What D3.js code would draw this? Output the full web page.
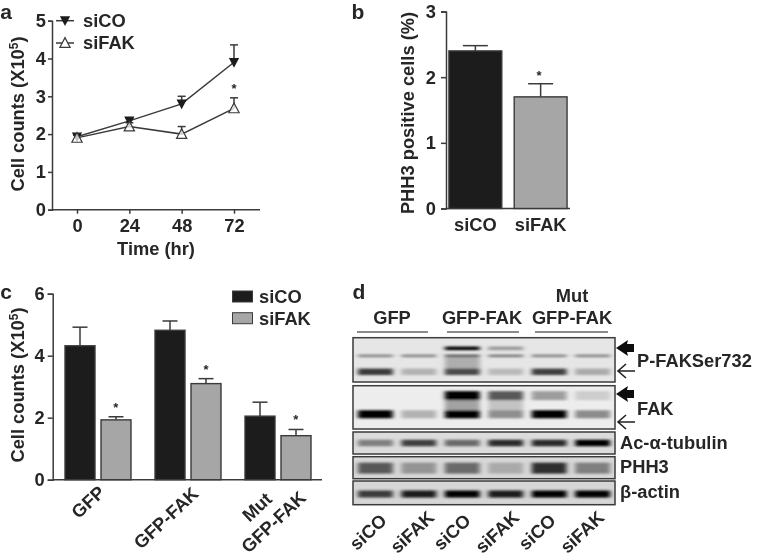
<!DOCTYPE html>
<html><head><meta charset="utf-8">
<script src="https://cdn.jsdelivr.net/npm/d3@7"></script>
<style>
html,body{margin:0;padding:0;background:#fff}
svg{display:block}
text{font-family:"Liberation Sans",Arial,sans-serif;font-weight:bold;fill:#262626}
</style></head><body><div id="c"></div>
<script>
// ---------- data ----------
const hours = [0, 24, 48, 72];
const aSiCO = [1.93, 2.35, 2.8, 3.9];
const aSiCOErr = [0.05, 0.07, 0.2, 0.46];
const aSiFAK = [1.9, 2.2, 2.0, 2.68];
const aSiFAKErr = [0.08, 0.1, 0.2, 0.28];
const bCats = ["siCO", "siFAK"];
const bVals = [2.4, 1.7];
const bErr = [0.08, 0.2];
const cCats = ["GFP", "GFP-FAK", "Mut GFP-FAK"];
const cSiCO = [4.32, 4.82, 2.05];
const cSiCOErr = [0.6, 0.3, 0.45];
const cSiFAK = [1.93, 3.1, 1.42];
const cSiFAKErr = [0.1, 0.16, 0.2];
const laneLabels = ["siCO", "siFAK", "siCO", "siFAK", "siCO", "siFAK"];
// blot band intensities (0..1), one row per band, one value per lane
const pfakUpper = [0, 0, 1, 0.3, 0, 0];
const pfakMiddle = [0.4, 0.4, 0.6, 0.45, 0.4, 0.4];
const pfakSmear = [0, 0, 0.2, 0, 0, 0];
const pfakLower = [0.75, 0.18, 0.68, 0.14, 0.72, 0.22];
const fakUpper = [0, 0, 1, 0.6, 0.28, 0.05];
const fakSmear = [0, 0, 0.25, 0.1, 0, 0];
const fakLower = [1, 0.18, 1, 0.35, 1, 0.36];
const tubulin = [0.42, 0.72, 0.52, 0.82, 0.82, 1];
const phh3 = [0.6, 0.32, 0.52, 0.22, 0.8, 0.42];
const actin = [0.75, 0.9, 1, 0.9, 1, 1];

// ---------- set-up ----------
const W = 757, H = 559, FS = 18.3, INK = "#3a3a3a";
const svg = d3.select("#c").append("svg").attr("width", W).attr("height", H);
const defs = svg.append("defs");
const soft = defs.append("filter").attr("id", "soft").attr("x", "-5%").attr("y", "-5%").attr("width", "110%").attr("height", "110%");
soft.append("feGaussianBlur").attr("stdDeviation", 0.5);
const blur = defs.append("filter").attr("id", "band").attr("x", "-20%").attr("y", "-100%").attr("width", "140%").attr("height", "300%");
blur.append("feGaussianBlur").attr("stdDeviation", "2.6 1");
const root = svg.append("g").attr("filter", "url(#soft)");
root.append("rect").attr("width", W).attr("height", H).attr("fill", "#fff");

function label(t, x, y, o = {}) {
  return root.append("text").attr("x", x).attr("y", y).attr("dy", "0.35em")
    .attr("text-anchor", o.anchor || "middle").attr("font-size", o.size || FS)
    .attr("transform", o.rot ? `rotate(${o.rot} ${x} ${y})` : null).text(t);
}
function styleAxis(g, size) {
  g.selectAll("path,line").attr("stroke", INK).attr("stroke-width", 1.5);
  g.selectAll("text").attr("font-size", size || FS).attr("font-weight", "bold")
    .attr("font-family", '"Liberation Sans",Arial,sans-serif').attr("fill", "#262626");
}
function yTitle(x, y, main) {
  return root.append("text").attr("text-anchor", "middle").attr("font-size", FS)
    .attr("transform", `translate(${x},${y}) rotate(-90)`).text(main);
}
function sup(t) {
  t.append("tspan").text("Cell counts (X10");
  t.append("tspan").attr("dy", -6).attr("font-size", 12).text("5");
  t.append("tspan").attr("dy", 6).text(")");
}
function errBars(g, xs, ys, tops, cap) {
  xs.forEach((x, i) => {
    g.append("line").attr("x1", x).attr("x2", x).attr("y1", ys[i]).attr("y2", tops[i]).attr("stroke", INK).attr("stroke-width", 1.5);
    g.append("line").attr("x1", x - cap / 2).attr("x2", x + cap / 2).attr("y1", tops[i]).attr("y2", tops[i]).attr("stroke", INK).attr("stroke-width", 1.5);
  });
}
const downTri = d3.symbol().type({ draw(c, s) { const r = Math.sqrt(s) / 2; c.moveTo(-r, -r * .85); c.lineTo(r, -r * .85); c.lineTo(0, r * 1.05); c.closePath(); } }).size(105);
const upTri = d3.symbol().type({ draw(c, s) { const r = Math.sqrt(s) / 2; c.moveTo(-r, r * .85); c.lineTo(r, r * .85); c.lineTo(0, -r * 1.05); c.closePath(); } }).size(105);

// ---------- panel a ----------
{
  const x = d3.scalePoint().domain(hours).range([77, 234]);
  const y = d3.scaleLinear().domain([0, 5]).range([209.7, 20.7]);
  const ax = root.append("g").attr("transform", "translate(0,209.7)")
    .call(d3.axisBottom(x).tickSize(4).tickPadding(5));
  ax.select(".domain").attr("d", "M52,0H260");
  styleAxis(ax);
  const ay = root.append("g").attr("transform", "translate(52,0)")
    .call(d3.axisLeft(y).ticks(5).tickSize(4).tickPadding(2));
  styleAxis(ay);
  const line = d3.line().x((d, i) => x(hours[i])).y(d => y(d));
  const g = root.append("g");
  errBars(g, hours.map(x), aSiFAK.map(y), aSiFAK.map((v, i) => y(v + aSiFAKErr[i])), 8);
  errBars(g, hours.map(x), aSiCO.map(y), aSiCO.map((v, i) => y(v + aSiCOErr[i])), 8);
  g.append("path").attr("d", line(aSiFAK)).attr("fill", "none").attr("stroke", INK).attr("stroke-width", 1.5);
  g.append("path").attr("d", line(aSiCO)).attr("fill", "none").attr("stroke", INK).attr("stroke-width", 1.5);
  g.selectAll(".d").data(aSiCO).join("path").attr("d", downTri).attr("fill", "#1a1a1a")
    .attr("transform", (d, i) => `translate(${x(hours[i])},${y(d)})`);
  g.selectAll(".u").data(aSiFAK).join("path").attr("d", upTri).attr("fill", "#fff").attr("fill-opacity", .75).attr("stroke", INK).attr("stroke-width", 1.2)
    .attr("transform", (d, i) => `translate(${x(hours[i])},${y(d)})`);
  // legend
  [[20.7, downTri, "#1a1a1a", "siCO"], [43, upTri, "#fff", "siFAK"]].forEach(([ly, sym, fill, t]) => {
    root.append("line").attr("x1", 56).attr("x2", 74).attr("y1", ly).attr("y2", ly).attr("stroke", INK).attr("stroke-width", 1.5);
    root.append("path").attr("d", sym).attr("fill", fill).attr("stroke", INK).attr("stroke-width", fill === "#fff" ? 1.2 : 0).attr("transform", `translate(65,${ly})`);
    label(t, 83, ly - 0.5, { anchor: "start" });
  });
  label("*", x(72), 88, { size: 13 });
  label("Time (hr)", 156, 249);
  sup(yTitle(24, 114));
  label("a", 6, 11.6, { size: 21 });
}

// ---------- panel b ----------
{
  const x = d3.scaleBand().domain(bCats).range([446, 570]).paddingInner(0.19).paddingOuter(0.045);
  const y = d3.scaleLinear().domain([0, 3]).range([208.5, 11.5]);
  const ax = root.append("g").attr("transform", "translate(0,208.5)").call(d3.axisBottom(x).tickSize(0).tickPadding(10));
  ax.select(".domain").attr("d", "M446,0H570");
  styleAxis(ax);
  const ay = root.append("g").attr("transform", "translate(446,0)").call(d3.axisLeft(y).ticks(3).tickSize(5).tickPadding(5));
  styleAxis(ay);
  const g = root.append("g");
  const cx = bCats.map(c => x(c) + x.bandwidth() / 2);
  errBars(g, cx, bVals.map(y), bVals.map((v, i) => y(v + bErr[i])), 25);
  g.selectAll("rect").data(bVals).join("rect")
    .attr("x", (d, i) => x(bCats[i])).attr("width", x.bandwidth())
    .attr("y", d => y(d)).attr("height", d => y(0) - y(d))
    .attr("fill", (d, i) => i ? "#a6a6a6" : "#1c1c1c").attr("stroke", INK).attr("stroke-width", 1.4);
  label("*", 539, 75, { size: 13 });
  yTitle(414, 113, "PHH3 positive cells (%)");
  label("b", 358, 11.6, { size: 21 });
}

// ---------- panel c ----------
{
  const x0 = d3.scaleBand().domain(cCats).range([52.7, 322]).paddingInner(0.2).paddingOuter(0.045);
  const y = d3.scaleLinear().domain([0, 6]).range([479.7, 293.7]);
  const ax = root.append("g").attr("transform", "translate(0,479.7)").call(d3.axisBottom(x0).tickSize(0).tickFormat(""));
  ax.select(".domain").attr("d", "M52.7,0H322");
  styleAxis(ax);
  const ay = root.append("g").attr("transform", "translate(52.7,0)").call(d3.axisLeft(y).ticks(3).tickSize(5).tickPadding(3));
  styleAxis(ay);
  const xCo = d3.scalePoint().domain(cCats).range([65, 245]);
  const bw = 30;
  const g = root.append("g");
  const cSeries = [[cSiCO, cSiCOErr, 0, "#1c1c1c"], [cSiFAK, cSiFAKErr, 36, "#a6a6a6"]];
  cSeries.forEach(([vals, errs, off, fill]) => {
    errBars(g, cCats.map(c => xCo(c) + off + bw / 2), vals.map(y), vals.map((v, i) => y(v + errs[i])), 15);
    g.selectAll(null).data(vals).join("rect")
      .attr("x", (d, i) => xCo(cCats[i]) + off).attr("width", bw)
      .attr("y", d => y(d)).attr("height", d => y(0) - y(d))
      .attr("fill", fill).attr("stroke", INK).attr("stroke-width", 1.4);
  });
  [[115.7, 407.5], [206, 369.5], [295.7, 419.5]].forEach(p => label("*", p[0], p[1], { size: 13 }));
  [[291, "#1c1c1c", "siCO"], [312.7, "#a6a6a6", "siFAK"]].forEach(([ly, f, t]) => {
    root.append("rect").attr("x", 232.5).attr("y", ly).attr("width", 20).attr("height", 11).attr("fill", f).attr("stroke", INK).attr("stroke-width", 1);
    label(t, 259, ly + 5.5, { anchor: "start" });
  });
  label("GFP", 88, 502, { rot: -43 });
  label("GFP-FAK", 166, 518, { rot: -43 });
  label("Mut", 257, 507, { rot: -43 });
  label("GFP-FAK", 273.5, 522, { rot: -43 });
  sup(yTitle(24, 385));
  label("c", 6, 292, { size: 21 });
}

// ---------- panel d ----------
{
  const lane = d3.scaleBand().domain(d3.range(6)).range([358, 610]).paddingInner(0.2);
  const shade = d3.scaleLinear().domain([0, 1]).range(["#d8d8d8", "#050505"]);
  const blots = [
    { y0: 337.7, y1: 382, bg: "#e6e6e6", rows: [[pfakUpper, .24, 3.6], [pfakSmear, .6, 14], [pfakMiddle, .41, 2.6], [pfakLower, .77, 6.5]] },
    { y0: 385.7, y1: 429, bg: "#ededed", rows: [[fakSmear, .45, 12], [fakUpper, .23, 9], [fakLower, .66, 8]] },
    { y0: 432, y1: 454, bg: "#dcdcdc", rows: [[tubulin, .5, 6.5]] },
    { y0: 456.7, y1: 478.7, bg: "#d8d8d8", rows: [[phh3, .52, 11]] },
    { y0: 481, y1: 504.7, bg: "#d6d6d6", rows: [[actin, .55, 7]] }
  ];
  blots.forEach((b, bi) => {
    const clipId = "clip" + bi;
    defs.append("clipPath").attr("id", clipId).append("rect").attr("x", 353).attr("y", b.y0).attr("width", 262).attr("height", b.y1 - b.y0);
    const gb = root.append("g").attr("clip-path", `url(#${clipId})`);
    gb.append("rect").attr("x", 353).attr("y", b.y0).attr("width", 262).attr("height", b.y1 - b.y0).attr("fill", b.bg);
    const yy = d3.scaleLinear().domain([0, 1]).range([b.y0, b.y1]);
    const gg = gb.append("g").attr("filter", "url(#band)");
    b.rows.forEach(([vals, pos, thick]) => {
      gg.selectAll(null).data(vals.map((v, i) => ({ v, i })).filter(d => d.v > 0)).join("rect")
        .attr("x", d => lane(d.i)).attr("width", lane.bandwidth())
        .attr("y", yy(pos) - thick / 2).attr("height", thick)
        .attr("fill", d => shade(d.v));
    });
    root.append("rect").attr("x", 353).attr("y", b.y0).attr("width", 262).attr("height", b.y1 - b.y0)
      .attr("fill", "none").attr("stroke", "#3a3a3a").attr("stroke-width", 1.5);
  });
  [["GFP", 392, [357, 428]], ["GFP-FAK", 482, [447, 519]], ["GFP-FAK", 572, [535, 608]]].forEach(([t, cx, r]) => {
    label(t, cx, 318);
    root.append("line").attr("x1", r[0]).attr("x2", r[1]).attr("y1", 332).attr("y2", 332).attr("stroke", "#666").attr("stroke-width", 1.6);
  });
  label("Mut", 572, 296);
  label("P-FAKSer732", 637, 361, { anchor: "start" });
  label("FAK", 637, 409, { anchor: "start" });
  label("Ac-α-tubulin", 620, 443, { anchor: "start" });
  label("PHH3", 620, 467, { anchor: "start" });
  label("β-actin", 620, 492, { anchor: "start" });
  // arrows
  [348, 394].forEach(ay => root.append("path")
    .attr("d", `M616,${ay}L628,${ay - 8}L627,${ay - 4}H634V${ay + 4}H627L628,${ay + 8}Z`).attr("fill", "#111"));
  [371, 422].forEach(ay => root.append("path")
    .attr("d", `M635,${ay}H618M626,${ay - 7}L618,${ay}L626,${ay + 7}`).attr("fill", "none").attr("stroke", "#222").attr("stroke-width", 1.6));
  const lx = [368, 412, 452, 497, 537, 582];
  laneLabels.forEach((t, i) => label(t, lx[i], 532, { rot: -43 }));
  label("d", 359, 292, { size: 21 });
}
</script></body></html>
